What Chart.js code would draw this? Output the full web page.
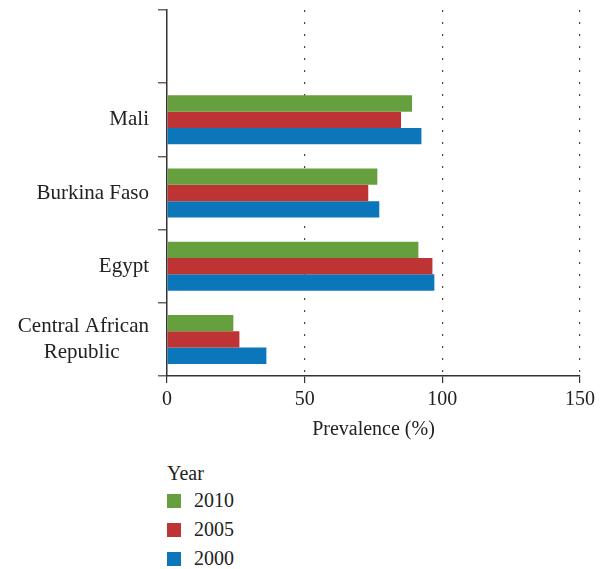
<!DOCTYPE html>
<html>
<head>
<meta charset="utf-8">
<script src="https://cdn.jsdelivr.net/npm/chart.js@4/dist/chart.umd.min.js"></script>
<style>
  body { margin: 0; background: #fff; }
  #wrap { position: relative; width: 605px; height: 450px; }
  #legend { position: absolute; left: 167px; top: 460px; font: 20px "Liberation Serif", serif; color: #222; }
  #legend .title { height: 26px; line-height: 26px; }
  #legend .item { display: flex; align-items: center; height: 29px; }
  #legend .box { width: 14px; height: 14px; margin-right: 13px; }
</style>
</head>
<body>
<div id="wrap"><canvas id="chart"></canvas></div>
<div id="legend"></div>
<script>
/* data */
const countries = ['', 'Mali', 'Burkina Faso', 'Egypt', ['Central African', 'Republic']];
const years = ['2010', '2005', '2000'];
const values2010 = [null, 89, 76.4, 91.3, 24.1];
const values2005 = [null, 85, 73.1, 96.4, 26.3];
const values2000 = [null, 92.4, 77.1, 97.1, 36.1];
const xTicks = [0, 50, 100, 150];
const colors = ['#669F3D', '#BE3434', '#0B77BA'];

const FONT = '"Liberation Serif", serif';
Chart.defaults.font.family = FONT;
Chart.defaults.font.size = 20;
Chart.defaults.color = '#222';

/* centre the lines of a multi-line label by padding with thin spaces */
const measureCtx = document.createElement('canvas').getContext('2d');
measureCtx.font = '21px ' + FONT;
function centreLines(lines) {
  if (!Array.isArray(lines)) return lines;
  const widths = lines.map(l => measureCtx.measureText(l).width);
  const max = Math.max(...widths);
  const sp = measureCtx.measureText('\u2009').width;
  return lines.map((l, i) => l + '\u2009'.repeat(Math.round((max - widths[i]) / 2 / sp)));
}

const seriesData = [values2010, values2005, values2000];

const ctx = document.getElementById('chart').getContext('2d');
const chart = new Chart(ctx, {
  type: 'bar',
  data: {
    labels: countries,
    datasets: years.map((y, i) => ({
      label: y,
      data: seriesData[i],
      backgroundColor: colors[i],
      borderWidth: 0,
      categoryPercentage: 0.67,
      barPercentage: 1
    }))
  },
  options: {
    indexAxis: 'y',
    responsive: true,
    maintainAspectRatio: false,
    animation: false,
    layout: { padding: { top: 10, right: 25, left: 0, bottom: 0 } },
    plugins: { legend: { display: false }, tooltip: { enabled: false } },
    scales: {
      x: {
        min: 0, max: 150,
        afterBuildTicks: s => { s.ticks = xTicks.map(v => ({ value: v })); },
        afterFit: s => { s.height = 74; },
        ticks: { padding: 5, color: '#222' },
        grid: {
          color: c => c.tick && c.tick.value === 0 ? 'rgba(0,0,0,0)' : '#444',
          lineWidth: 1.2,
          tickLength: 7,
          tickColor: '#333',
          tickBorderDash: []
        },
        border: { display: true, color: '#333', width: 1.5, dash: [2, 10] },
        title: { display: true, text: 'Prevalence (%)', color: '#222', padding: { top: 0, bottom: 8 } }
      },
      y: {
        afterFit: s => { s.width = 167; s.paddingTop = 0; s.paddingBottom = 0; },
        ticks: {
          padding: 9,
          color: '#222',
          font: { size: 21 },
          callback: function (v) { return centreLines(this.getLabelForValue(v)); }
        },
        grid: { drawOnChartArea: false, offset: true, tickLength: 9, color: '#666', lineWidth: 1.5 },
        border: { display: true, color: '#333', width: 1.5 }
      }
    }
  }
});

/* vertical legend built from the datasets */
const legend = document.getElementById('legend');
legend.innerHTML = '<div class="title">Year</div>' + chart.data.datasets.map(ds =>
  `<div class="item"><span class="box" style="background:${ds.backgroundColor}"></span>${ds.label}</div>`
).join('');
</script>
</body>
</html>
